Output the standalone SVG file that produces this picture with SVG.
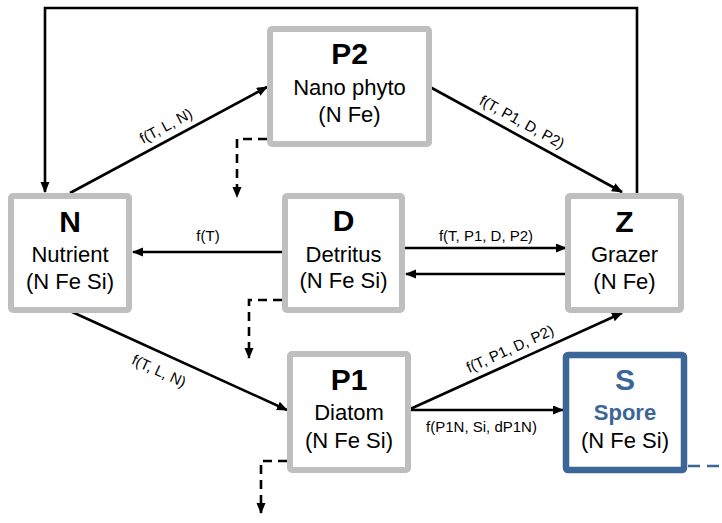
<svg xmlns="http://www.w3.org/2000/svg" width="722" height="523" viewBox="0 0 722 523">
<defs>
<marker id="ah" markerUnits="userSpaceOnUse" markerWidth="12" markerHeight="10" refX="10" refY="4.5" orient="auto">
<path d="M0,0 L11,4.5 L0,9 z" fill="#000"/>
</marker>
</defs>
<style>
.box{fill:#fff;stroke:#bfbfbf;stroke-width:6}
.sbox{fill:#fff;stroke:#3c6598;stroke-width:6.5}
.big{font-family:"Liberation Sans",Arial,sans-serif;font-weight:bold;font-size:30px;text-anchor:middle;fill:#000}
.nm{font-family:"Liberation Sans",Arial,sans-serif;font-size:22px;text-anchor:middle;fill:#000}
.blue{fill:#3c6598}
.b22{font-weight:bold}
.lbl{font-family:"Liberation Sans",Arial,sans-serif;font-size:15px;text-anchor:middle;fill:#000}
.ln{fill:none;stroke:#000;stroke-width:2.6}
.arr{marker-end:url(#ah)}
.dash{fill:none;stroke:#000;stroke-width:2.6;stroke-dasharray:9 6}
.bdash{fill:none;stroke:#3c6598;stroke-width:2.6;stroke-dasharray:12 7}
</style>
<rect width="722" height="523" fill="#fff"/>
<g id="connectors">
<path class="ln arr" d="M637,193 V8 H45 V192"/>
<path class="ln arr" d="M70,193 L267,87"/>
<path class="ln arr" d="M430,87 L622,192"/>
<path class="ln arr" d="M282,252 H133"/>
<path class="ln arr" d="M405,248 H566"/>
<path class="ln arr" d="M568,274 H406"/>
<path class="ln arr" d="M70,311 L287,410"/>
<path class="ln arr" d="M408,410 L622,313"/>
<path class="ln arr" d="M408,410 H563"/>
<path class="dash arr" d="M267,139 H237 V197"/>
<path class="dash arr" d="M282,300 H249 V358"/>
<path class="dash arr" d="M287,461 H261 V513"/>
<path class="bdash" d="M688,466 H722"/>
<text class="lbl" transform="translate(166,126) rotate(-28.2)" y="5">f(T, L, N)</text>
<text class="lbl" transform="translate(522,122) rotate(28.8)" y="5">f(T, P1, D, P2)</text>
<text class="lbl" transform="translate(159,371) rotate(24.6)" y="5">f(T, L, N)</text>
<text class="lbl" transform="translate(510,349) rotate(-24.5)" y="5">f(T, P1, D, P2)</text>
<text class="lbl" x="208" y="241">f(T)</text>
<text class="lbl" x="486" y="241">f(T, P1, D, P2)</text>
<text class="lbl" x="481.5" y="432">f(P1N, Si, dP1N)</text>
</g>
<g id="node-P2">
<rect class="box" x="270" y="29" width="159" height="115" rx="2"/>
<text class="big" x="349.5" y="64">P2</text>
<text class="nm" x="349.5" y="95">Nano phyto</text>
<text class="nm" x="349.5" y="122">(N Fe)</text>
</g>
<g id="node-N">
<rect class="box" x="11" y="196" width="118" height="114" rx="2"/>
<text class="big" x="70" y="232">N</text>
<text class="nm" x="70" y="262">Nutrient</text>
<text class="nm" x="70" y="289">(N Fe Si)</text>
</g>
<g id="node-D">
<rect class="box" x="285" y="196" width="117" height="114" rx="2"/>
<text class="big" x="343.5" y="231">D</text>
<text class="nm" x="343.5" y="262">Detritus</text>
<text class="nm" x="343.5" y="288">(N Fe Si)</text>
</g>
<g id="node-Z">
<rect class="box" x="568" y="196" width="113" height="114" rx="2"/>
<text class="big" x="624.5" y="232">Z</text>
<text class="nm" x="624.5" y="262">Grazer</text>
<text class="nm" x="624.5" y="289">(N Fe)</text>
</g>
<g id="node-P1">
<rect class="box" x="290" y="354" width="118" height="116" rx="2"/>
<text class="big" x="349" y="390">P1</text>
<text class="nm" x="349" y="420">Diatom</text>
<text class="nm" x="349" y="448">(N Fe Si)</text>
</g>
<g id="node-S">
<rect class="sbox" x="566" y="355" width="118" height="115" rx="2"/>
<text class="big blue" x="625" y="390">S</text>
<text class="nm blue b22" x="625" y="420">Spore</text>
<text class="nm" x="625" y="448">(N Fe Si)</text>
</g>
</svg>
